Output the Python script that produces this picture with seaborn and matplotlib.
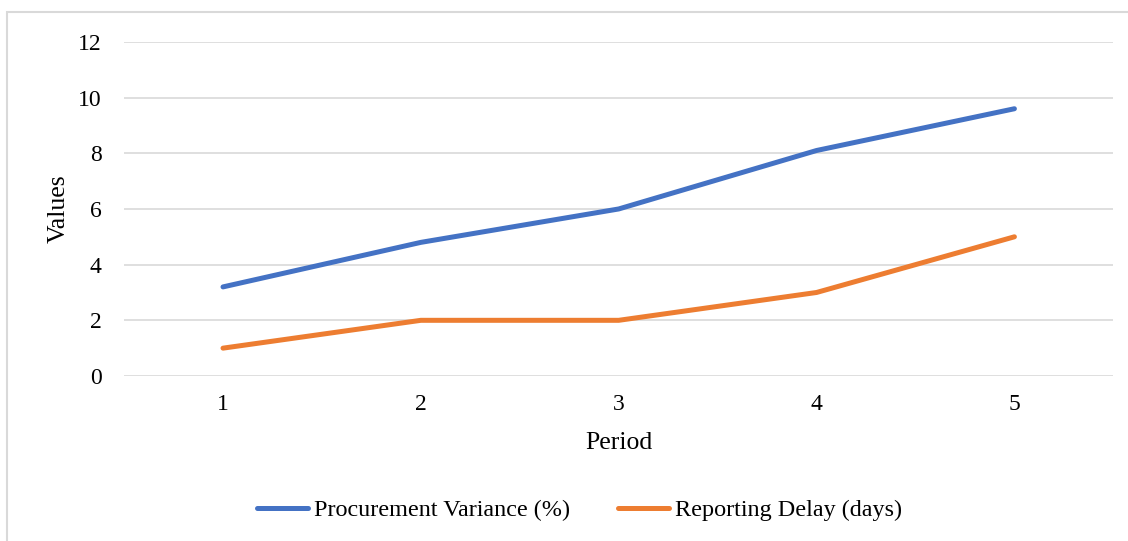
import pandas as pd
import numpy as np
import matplotlib.pyplot as plt
import seaborn as sns
from matplotlib.patches import Rectangle

# Données
periods = [1, 2, 3, 4, 5]
procurement_variance = [3.2, 4.8, 6.0, 8.1, 9.6]
reporting_delay = [1, 2, 2, 3, 5]
series_names = ['Procurement Variance (%)', 'Reporting Delay (days)']
colors = ['#4472C4', '#ED7D31']

df = pd.DataFrame({
    'Period': periods * 2,
    'Values': procurement_variance + reporting_delay,
    'Series': [series_names[0]] * 5 + [series_names[1]] * 5,
})

sns.set_style('white')
plt.rcParams['font.family'] = ['Liberation Serif', 'DejaVu Serif']
plt.rcParams['text.color'] = 'black'
plt.rcParams['axes.labelcolor'] = 'black'

fig = plt.figure(figsize=(11.28, 5.41), dpi=100)
ax = fig.add_axes([0.110, 0.305, 0.877, 0.6175])

sns.lineplot(data=df, x='Period', y='Values', hue='Series', palette=colors,
             linewidth=3.6, ax=ax, legend=False, solid_capstyle='round')

ax.set_xlim(0.5, 5.5)
ax.set_ylim(0, 12)
ax.set_yticks(np.arange(0, 13, 2))
ax.set_xticks(periods)
ax.yaxis.grid(True, color='#D9D9D9', linewidth=1.2)
ax.set_axisbelow(True)
for s in ax.spines.values():
    s.set_visible(False)
ax.tick_params(axis='both', length=0, labelsize=17, colors='black')
ax.tick_params(axis='y', pad=16)
ax.tick_params(axis='x', pad=13)
ax.set_xlabel('Period', fontsize=18.5, labelpad=12)
ax.set_ylabel('Values', fontsize=18.5, labelpad=6)

# Légende en bas
handles = [plt.Line2D([], [], color=c, linewidth=3.6) for c in colors]
fig.legend(handles, series_names, loc='center', bbox_to_anchor=(0.514, 0.057),
           ncol=2, frameon=False, fontsize=17.4, handlelength=2.1,
           handletextpad=0.25, columnspacing=2.0)

# Bordure du graphique
fig.patches.append(Rectangle((0.0062, -0.1), 1.2, 1.078, transform=fig.transFigure,
                             fill=False, edgecolor='#D9D9D9', linewidth=1.5))

plt.savefig('out.png', dpi=100)
